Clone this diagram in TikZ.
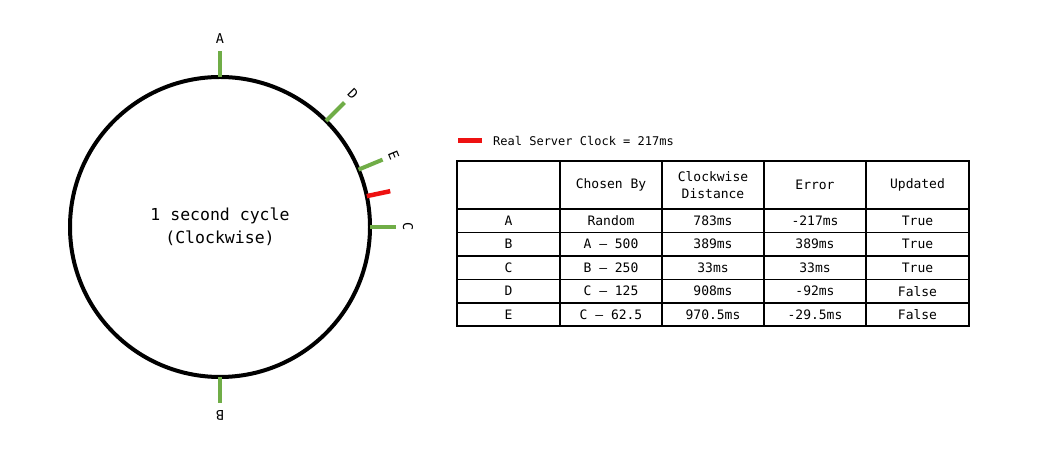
\documentclass[tikz,border=0pt]{standalone}
\usepackage{fontspec}
\setmonofont{DejaVu Sans Mono}
\usetikzlibrary{calc}
\definecolor{tickgreen}{HTML}{70AD47}
\definecolor{tickred}{HTML}{EE1111}
\tikzset{
  ring/.style={line width=4pt, draw=black},
  gtick/.style={line width=4pt, draw=tickgreen},
  rtick/.style={line width=4.5pt, draw=tickred},
  ticklabel/.style={font=\ttfamily\fontsize{13.5}{15}\selectfont, inner sep=0pt},
  cell/.style={font=\ttfamily\fontsize{13}{17}\selectfont, inner sep=0pt, align=center},
  grid/.style={line width=1.5pt, draw=black},
}
\begin{document}
\begin{tikzpicture}[x=1pt,y=1pt]
\useasboundingbox (0,0) rectangle (1047,462);
\fill[white] (0,0) rectangle (1047,462);
% clock
\coordinate (O) at (220,235);
\node[ring, circle, minimum size=300pt, inner sep=0pt] (clock) at (O) {};
\node[font=\ttfamily\fontsize{16.5}{23}\selectfont, align=center] (cyc) at (O) {1 second cycle\\(Clockwise)};
% ticks (theta clockwise from top)
\foreach \n/\t in {A/0, D/45, E/67.5, C/90, B/180}{
  \coordinate (t\n1) at ($(O)+(90-\t:150)$);
  \coordinate (t\n2) at ($(O)+(90-\t:176)$);
  \draw[gtick] (t\n1) -- (t\n2);
  \node[ticklabel, rotate=-\t] (l\n) at ($(O)+(90-\t:188)$) {\n};
}
\coordinate (tR1) at ($(O)+(90-78.12:150)$);
\coordinate (tR2) at ($(O)+(90-78.12:174)$);
\draw[rtick] (tR1) -- (tR2);
% legend
\coordinate (lg1) at (458,321);
\coordinate (lg2) at (482,321);
\draw[rtick, line width=5pt] (lg1) -- (lg2);
\node[font=\ttfamily\fontsize{12}{14}\selectfont, anchor=west, inner sep=0pt] (legend) at (493,320.5) {Real Server Clock = 217ms};
% table grid
\def\xa{457}\def\xb{560}\def\xc{662}\def\xd{764}\def\xe{866}\def\xf{969}
\draw[grid] (\xa,301) rectangle (\xf,136);
\foreach \x in {\xb,\xc,\xd,\xe}{\draw[grid] (\x,301) -- (\x,136);}
\foreach \y in {253,229.5,206,182.5,159}{\draw[grid] (\xa,\y) -- (\xf,\y);}
% header
\node[cell] (h2) at (611,277) {Chosen By};
\node[cell] (h3) at (713,277) {Clockwise\\Distance};
\node[cell] (h4) at (815,277) {Error};
\node[cell] (h5) at (917.5,277) {Updated};
% rows
\foreach \r/\y/\a/\b/\c/\d/\e in {
  1/241.25/A/Random/783ms/-217ms/True,
  2/217.75/B/A – 500/389ms/389ms/True,
  3/194.25/C/B – 250/33ms/33ms/True,
  4/170.75/D/C – 125/908ms/-92ms/False,
  5/147.5/E/C – 62.5/970.5ms/-29.5ms/False}{
  \node[cell] (r\r a) at (508.5,\y) {\a};
  \node[cell] (r\r b) at (611,\y) {\b};
  \node[cell] (r\r c) at (713,\y) {\c};
  \node[cell] (r\r d) at (815,\y) {\d};
  \node[cell] (r\r e) at (917.5,\y) {\e};
}
\end{tikzpicture}
\end{document}
